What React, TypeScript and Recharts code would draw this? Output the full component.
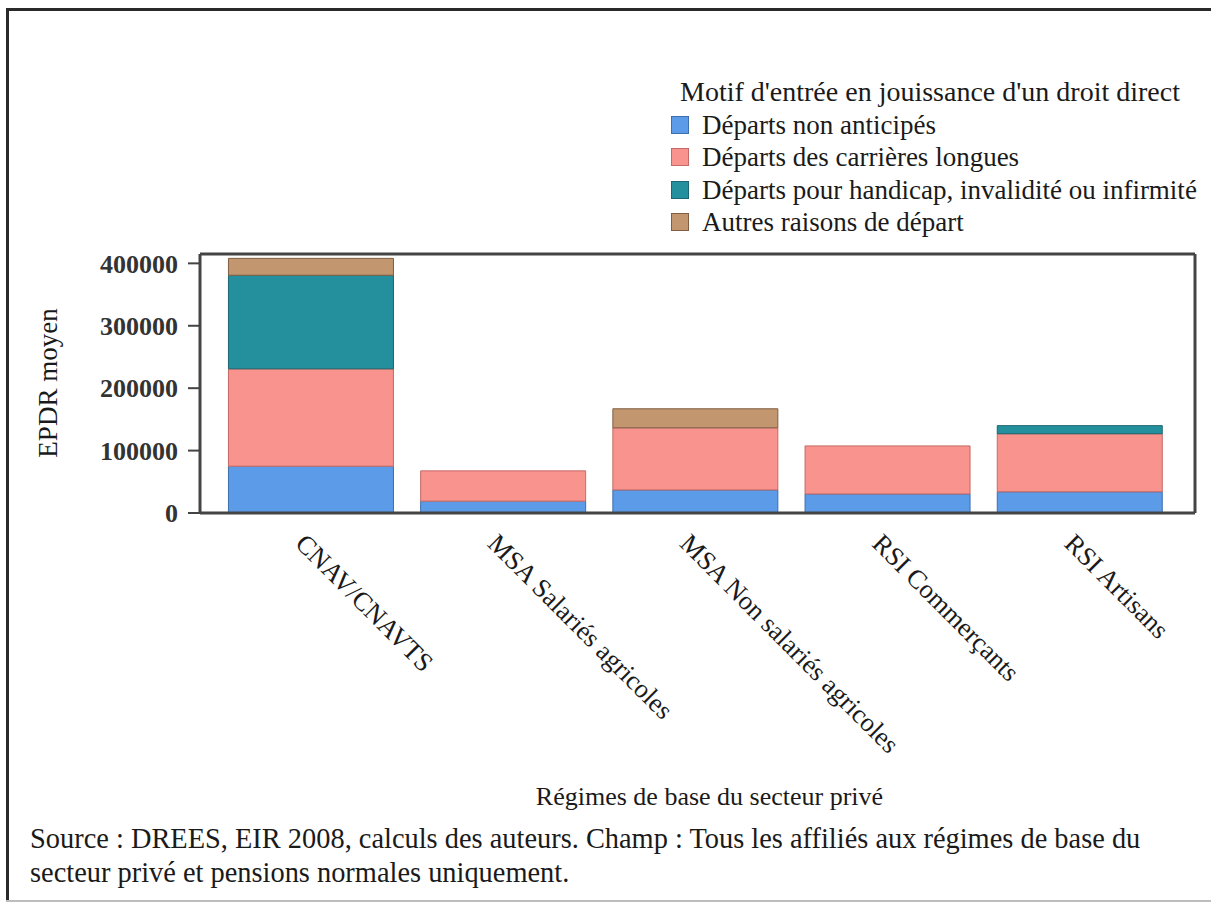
import { Bar, BarChart, Legend, XAxis, YAxis } from "recharts";

const categories = [
	"CNAV/CNAVTS",
	"MSA Salariés agricoles",
	"MSA Non salariés agricoles",
	"RSI Commerçants",
	"RSI Artisans",
];
const nonAnticipes = [75000, 19000, 37000, 30500, 34000];
const carrieresLongues = [156000, 48500, 99500, 77000, 93000];
const handicap = [150000, 0, 0, 0, 13000];
const autres = [27000, 0, 30500, 0, 0];
const yTicks = [0, 100000, 200000, 300000, 400000];

const series = [
	{ key: "nonAnticipes", name: "Départs non anticipés", fill: "#5b9be8", stroke: "#3d6fae" },
	{ key: "carrieresLongues", name: "Départs des carrières longues", fill: "#f8938d", stroke: "#c46a66" },
	{ key: "handicap", name: "Départs pour handicap, invalidité ou infirmité", fill: "#24909d", stroke: "#1b6670" },
	{ key: "autres", name: "Autres raisons de départ", fill: "#c2976f", stroke: "#7f5e44" },
];

const data = categories.map((c, i) => ({
	regime: c,
	nonAnticipes: nonAnticipes[i],
	carrieresLongues: carrieresLongues[i],
	handicap: handicap[i],
	autres: autres[i],
}));

const FONT = "'Liberation Serif', 'Times New Roman', serif";

const XTick = ({ x, y, payload }: any) => {
	const tx = x - 17;
	const ty = y + 24;
	return (
		<text x={tx} y={ty} transform={`rotate(45 ${tx} ${ty})`} fontSize={26.5} fontFamily={FONT} fill="#1a1a1a" textAnchor="start">
			{payload.value}
		</text>
	);
};

const YLabel = () => (
	<text x={57} y={383} transform="rotate(-90 57 383)" fontSize={27} fontFamily={FONT} fill="#1a1a1a" textAnchor="middle">
		EPDR moyen
	</text>
);

const LegendBox = () => (
	<div style={{ fontFamily: FONT, fontSize: 27, color: "#1a1a1a", lineHeight: "32.5px", textAlign: "left" }}>
		<div style={{ marginLeft: 9, fontSize: 28 }}>Motif d'entrée en jouissance d'un droit direct</div>
		{series.map((s) => (
			<div key={s.key} style={{ display: "flex", alignItems: "center" }}>
				<span
					style={{
						display: "inline-block",
						width: 16,
						height: 16,
						background: s.fill,
						border: `1px solid ${s.stroke}`,
						marginRight: 13,
					}}
				/>
				{s.name}
			</div>
		))}
	</div>
);

export default function App() {
	return (
		<div style={{ position: "relative", width: 1211, height: 907, background: "#fff", overflow: "hidden" }}>
			<style>{"body{margin:0}"}</style>
			{/* frame of the scanned figure */}
			<div style={{ position: "absolute", left: 6, top: 8, width: 1205, height: 3, background: "#2a2a2a" }} />
			<div style={{ position: "absolute", left: 6, top: 8, width: 3, height: 892, background: "#2a2a2a" }} />
			<div style={{ position: "absolute", left: 6, top: 900, width: 1205, height: 2, background: "#bdbdbd" }} />

			<BarChart
				width={1211}
				height={907}
				data={data}
				margin={{ top: 253, right: 15, bottom: 94, left: 0 }}
				barCategoryGap="7%"
			>
				<XAxis
					dataKey="regime"
					height={300}
					padding={{ left: 15, right: 19 }}
					axisLine={{ stroke: "#444", strokeWidth: 3 }}
					tickLine={false}
					interval={0}
					tick={<XTick />}
					label={{
						value: "Régimes de base du secteur privé",
						position: "insideBottom",
						offset: 8,
						dx: 12,
						fontSize: 26,
						fontFamily: FONT,
						fill: "#1a1a1a",
					}}
				/>
				<XAxis xAxisId="top" dataKey="regime" orientation="top" height={1} tick={false} tickLine={false} axisLine={{ stroke: "#444", strokeWidth: 3 }} />
				<YAxis
					width={200}
					domain={[0, 415000]}
					ticks={yTicks}
					allowDataOverflow
					tickSize={12}
					tickMargin={10}
					axisLine={{ stroke: "#444", strokeWidth: 3 }}
					tickLine={{ stroke: "#444", strokeWidth: 2 }}
					tick={{ fontSize: 26, fontFamily: FONT, fontWeight: "bold", fill: "#333" }}
					label={<YLabel />}
				/>
				<YAxis yAxisId="right" orientation="right" width={1} tick={false} tickLine={false} axisLine={{ stroke: "#444", strokeWidth: 3 }} />
				<Legend
					layout="horizontal"
					verticalAlign="middle"
					align="center"
					content={<LegendBox />}
					wrapperStyle={{ position: "absolute", left: 671, top: 76, width: 540 }}
				/>
				{series.map((s) => (
					<Bar
						key={s.key}
						dataKey={s.key}
						name={s.name}
						stackId="a"
						fill={s.fill}
						stroke={s.stroke}
						strokeWidth={1}
						isAnimationActive={false}
					/>
				))}
			</BarChart>

			<div
				style={{
					position: "absolute",
					left: 30,
					top: 822,
					width: 1178,
					fontFamily: FONT,
					fontSize: 28.4,
					lineHeight: "34px",
					color: "#1a1a1a",
				}}
			>
				Source : DREES, EIR 2008, calculs des auteurs. Champ : Tous les affiliés aux régimes de base du
				<br />
				secteur privé et pensions normales uniquement.
			</div>
		</div>
	);
}
